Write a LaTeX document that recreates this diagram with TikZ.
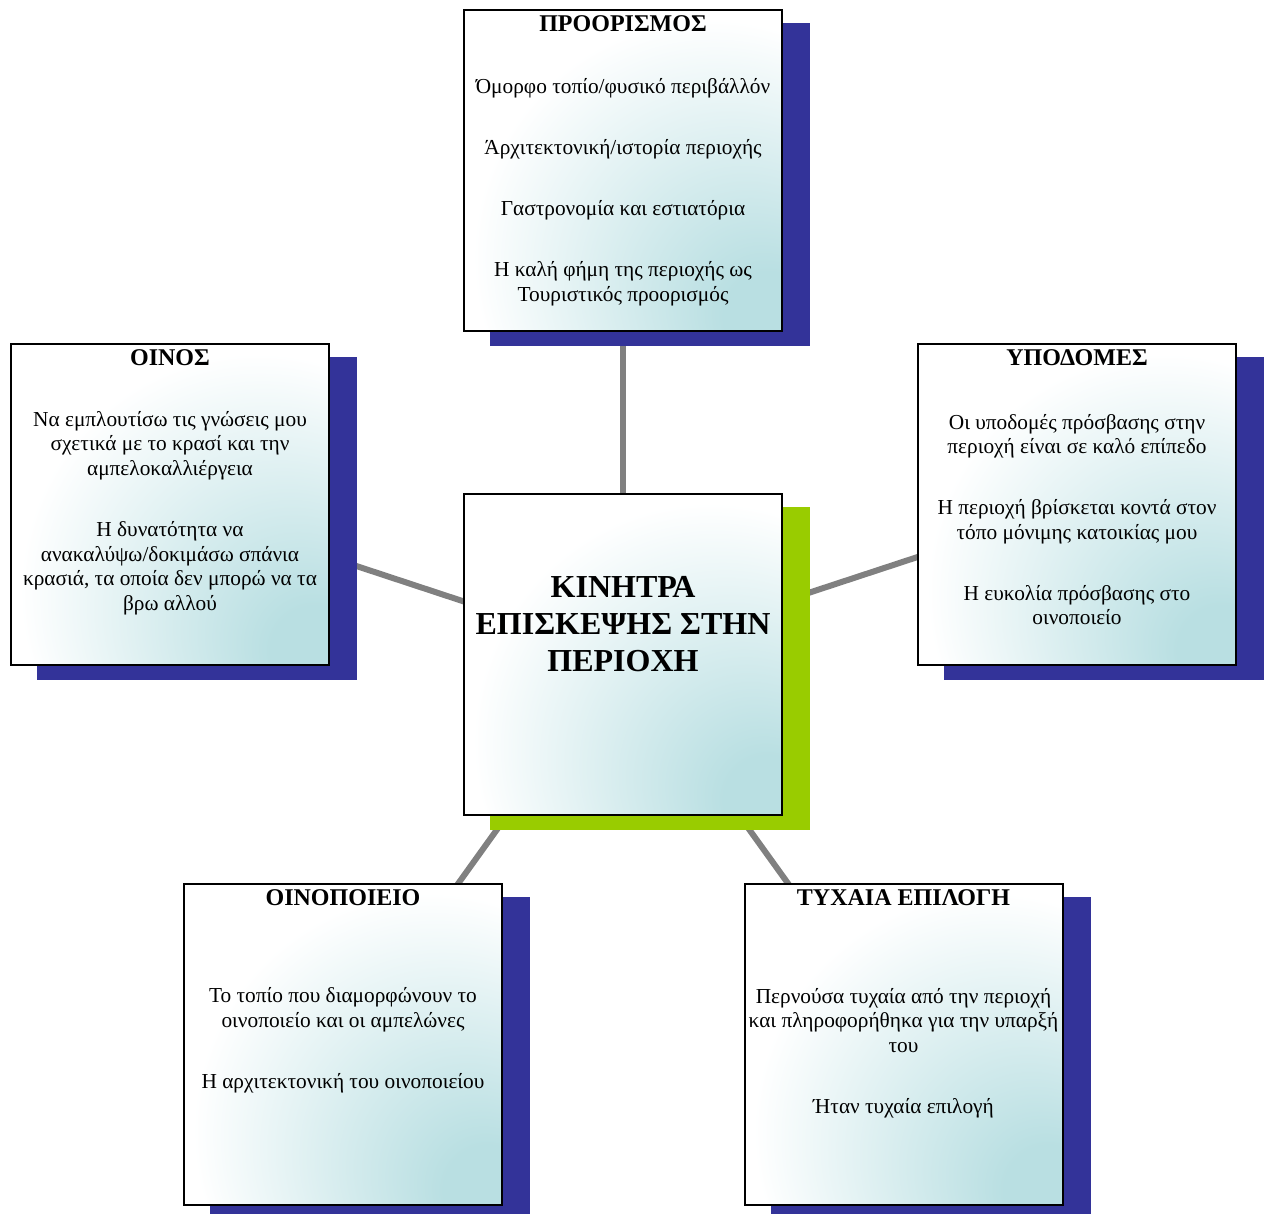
\documentclass[tikz,border=0pt]{standalone}
\usepackage{fontspec}
\setmainfont{Liberation Serif}
\usetikzlibrary{calc,backgrounds}

\definecolor{shadownavy}{HTML}{333399}
\definecolor{hubgreen}{HTML}{99CC00}
\definecolor{cardteal}{HTML}{B9DFE2}
\definecolor{linkgray}{HTML}{808080}
% teal in the lower right corner, fading to white
\pgfdeclareradialshading{cardshade}{\pgfpoint{25bp}{-25bp}}{color(0bp)=(cardteal); color(7bp)=(cardteal); color(37bp)=(white); color(80bp)=(white)}

\begin{document}
\begin{tikzpicture}[x=0.75pt, y=-0.75pt, % pixel grid, y runs downwards
    % --- Box styles ---
    card/.style={draw=black, line width=1.5pt, shade, shading=cardshade,
                 minimum width=238.5pt, minimum height=240.75pt, inner sep=0pt},
    cardtitle/.style={font=\fontsize{18}{20}\selectfont\bfseries},
    cardtext/.style={align=center, font=\fontsize{16}{18.4}\selectfont},
    hubtitle/.style={align=center, font=\fontsize{24}{28}\selectfont\bfseries},
    % --- Shadow and connector styles ---
    backdrop/.style={fill=shadownavy},
    link/.style={draw=linkgray, line width=4.5pt},
]
\useasboundingbox (0,0) rectangle (1269,1213);

% === The six boxes ===
\node[card] (hub)    at (623,654)    {};
\node[card] (dest)   at (623,170.5)  {};
\node[card] (wine)   at (170,504.5)  {};
\node[card] (infra)  at (1077,504.5) {};
\node[card] (winery) at (343,1044)   {};
\node[card] (chance) at (903.5,1044) {};

% === Connectors and shadows behind the boxes ===
\begin{scope}[on background layer]
  \foreach \b in {dest,wine,infra,winery,chance}
    \draw[link] (hub.center) -- (\b.center);
  \foreach \b in {dest,wine,infra,winery,chance}
    \fill[backdrop] ($(\b.south west)+(27,14)$) rectangle ($(\b.north east)+(27,14)$);
  \fill[hubgreen] ($(hub.south west)+(27,14)$) rectangle ($(hub.north east)+(27,14)$);
\end{scope}

% === Centre ===
\node[hubtitle] (hub-title) at (623,624) {ΚΙΝΗΤΡΑ\\ΕΠΙΣΚΕΨΗΣ ΣΤΗΝ\\ΠΕΡΙΟΧΗ};

% === Titles, 15px below each top edge ===
\node[cardtitle] (dest-title)   at ($(dest.north)+(0,15)$)   {ΠΡΟΟΡΙΣΜΟΣ};
\node[cardtitle] (wine-title)   at ($(wine.north)+(0,15)$)   {ΟΙΝΟΣ};
\node[cardtitle] (infra-title)  at ($(infra.north)+(0,15)$)  {ΥΠΟΔΟΜΕΣ};
\node[cardtitle] (winery-title) at ($(winery.north)+(0,15)$) {ΟΙΝΟΠΟΙΕΙΟ};
\node[cardtitle] (chance-title) at ($(chance.north)+(0,15)$) {ΤΥΧΑΙΑ ΕΠΙΛΟΓΗ};

% === Body texts ===
\node[cardtext] (dest-text) at (623,192)
  {Όμορφο τοπίο/φυσικό περιβάλλόν\\[27.4pt]
   Άρχιτεκτονική/ιστορία περιοχής\\[27.4pt]
   Γαστρονομία και εστιατόρια\\[27.4pt]
   Η καλή φήμη της περιοχής ως\\Τουριστικός προορισμός};
\node[cardtext] (wine-text) at (170,513)
  {Να εμπλουτίσω τις γνώσεις μου\\σχετικά με το κρασί και την\\αμπελοκαλλιέργεια\\[27.4pt]
   Η δυνατότητα να\\ανακαλύψω/δοκιμάσω σπάνια\\κρασιά, τα οποία δεν μπορώ να τα\\βρω αλλού};
\node[cardtext] (infra-text) at (1077,519.5)
  {Οι υποδομές πρόσβασης στην\\περιοχή είναι σε καλό επίπεδο\\[27.4pt]
   Η περιοχή βρίσκεται κοντά στον\\τόπο μόνιμης κατοικίας μου\\[27.4pt]
   Η ευκολία πρόσβασης στο\\οινοποιείο};
\node[cardtext] (winery-text) at (343,1040.5)
  {Το τοπίο που διαμορφώνουν το\\οινοποιείο και οι αμπελώνες\\[27.4pt]
   Η αρχιτεκτονική του οινοποιείου};
\node[cardtext] (chance-text) at (903.5,1053)
  {Περνούσα τυχαία από την περιοχή\\και πληροφορήθηκα για την υπαρξή\\του\\[27.4pt]
   Ήταν τυχαία επιλογή};

\end{tikzpicture}
\end{document}
